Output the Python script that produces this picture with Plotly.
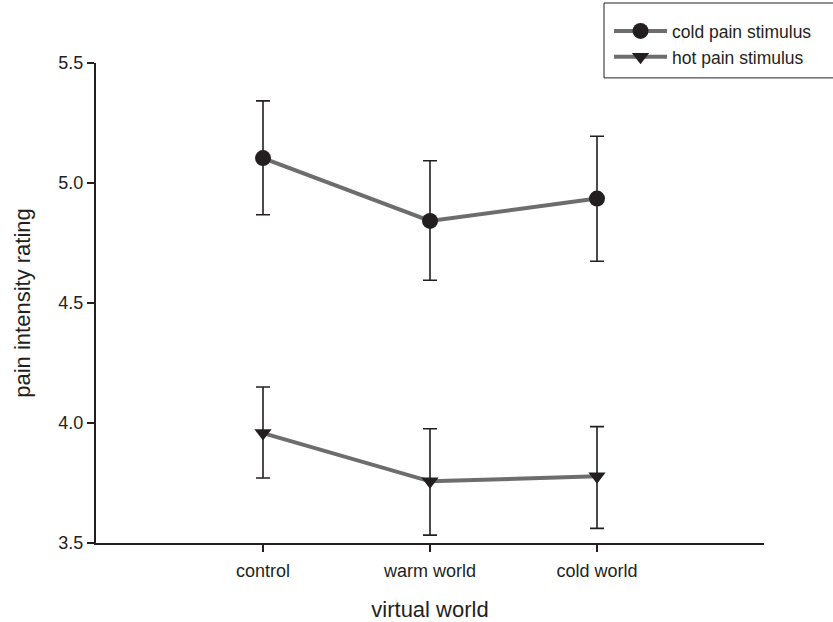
import plotly.graph_objects as go

categories = ["control", "warm world", "cold world"]
cold_mean = [5.104, 4.842, 4.935]
cold_upper = [5.342, 5.093, 5.195]
cold_lower = [4.868, 4.595, 4.674]
hot_mean = [3.958, 3.757, 3.778]
hot_upper = [4.150, 3.976, 3.985]
hot_lower = [3.771, 3.533, 3.561]
y_ticks = [3.5, 4.0, 4.5, 5.0, 5.5]

INK = "#231f20"
LINE = "#6d6d6f"
FONT = "Liberation Sans, Arial, sans-serif"

def err(mean, up, lo):
    return dict(type="data", symmetric=False,
                array=[u - m for u, m in zip(up, mean)],
                arrayminus=[m - l for m, l in zip(mean, lo)],
                color=INK, thickness=1.6, width=7)

fig = go.Figure()
fig.add_trace(go.Scatter(
    x=categories, y=cold_mean, name="cold pain stimulus", mode="lines+markers",
    line=dict(color=LINE, width=4),
    marker=dict(symbol="circle", size=16, color=INK),
    error_y=err(cold_mean, cold_upper, cold_lower)))
fig.add_trace(go.Scatter(
    x=categories, y=hot_mean, name="hot pain stimulus", mode="lines+markers",
    line=dict(color=LINE, width=4),
    marker=dict(symbol="triangle-down", size=15, color=INK),
    error_y=err(hot_mean, hot_upper, hot_lower)))

# legend frame
fig.add_shape(type="rect", xref="paper", yref="paper",
              x0=0.7605, x1=1.12, y0=0.969, y1=1.125,
              line=dict(color=INK, width=1), fillcolor="white", layer="below")

fig.update_layout(
    width=833, height=622,
    margin=dict(l=96, r=69, t=63, b=79, autoexpand=False),
    paper_bgcolor="white", plot_bgcolor="white",
    font=dict(family=FONT, size=18, color=INK),
    showlegend=True,
    legend=dict(x=0.768, y=1.104, xanchor="left", yanchor="top",
                borderwidth=0, bgcolor="rgba(0,0,0,0)",
                font=dict(size=17.5), itemwidth=53, tracegroupgap=0),
    xaxis=dict(type="category", range=[-1, 3], showline=True, linecolor=INK,
               linewidth=2, ticks="outside", ticklen=7, tickwidth=2, tickcolor=INK,
               showgrid=False, zeroline=False, tickfont=dict(size=18),
               ticklabelstandoff=3,
               title=dict(text="virtual world", font=dict(size=22), standoff=26)),
    yaxis=dict(range=[3.5, 5.5], tickvals=y_ticks,
               ticktext=[f"{v:.1f}" for v in y_ticks],
               showline=True, linecolor=INK, linewidth=2,
               ticks="outside", ticklen=7, tickwidth=2, tickcolor=INK,
               showgrid=False, zeroline=False, tickfont=dict(size=18),
               title=dict(text="pain intensity rating", font=dict(size=22), standoff=22)),
)

fig.write_html("out.html", config={"displayModeBar": False},
               post_script="document.body.style.margin='0px';")
